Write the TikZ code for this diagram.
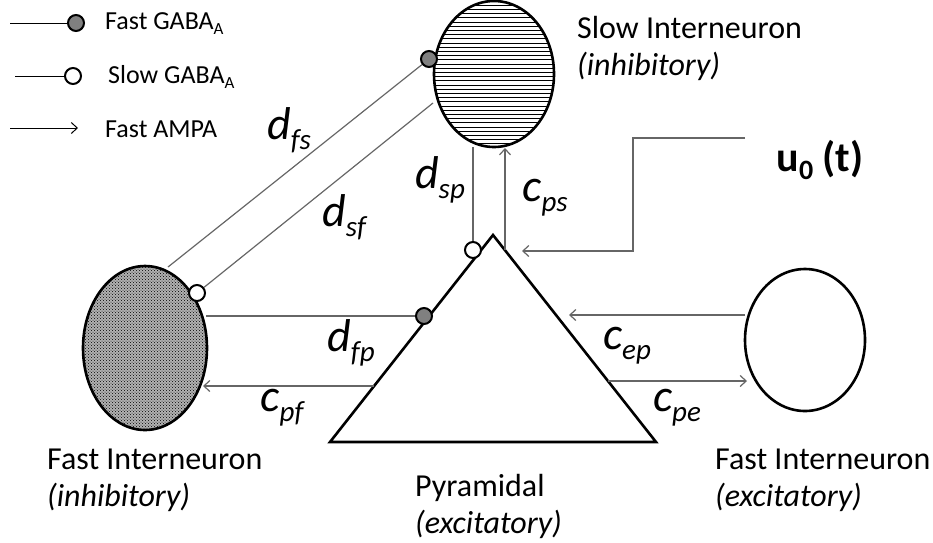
\documentclass[tikz,border=0pt]{standalone}
\usepackage{fontspec}
\setmainfont{Carlito}
\usetikzlibrary{arrows.meta,patterns,shapes.geometric}
\newcommand\symlab[2]{#1\raisebox{-10pt}{\fontsize{29}{29}\selectfont #2}}
\newcommand\legsub[1]{\raisebox{-5pt}{\fontsize{17}{17}\selectfont #1}}
\begin{document}
\begin{tikzpicture}[x=1pt,y=-1pt,
  cell/.style={draw=black, line width=2.6pt},
  conn/.style={draw=black!60, line width=1.2pt},
  arr/.style={conn, -{Straight Barb[length=6pt,width=11pt,line width=1.2pt]}},
  fdot/.style={circle, draw=black, line width=2pt, fill=black!50, minimum size=16pt, inner sep=0},
  odot/.style={circle, draw=black, line width=2pt, fill=white, minimum size=16pt, inner sep=0},
  lbl/.style={font=\fontsize{32}{37}\selectfont, align=left, inner sep=0, anchor=north west},
  sym/.style={inner sep=0, font=\fontsize{46}{46}\selectfont\itshape},
  leg/.style={inner sep=0, anchor=west, font=\fontsize{26}{26}\selectfont},
  legline/.style={draw=black, line width=1pt},
]
\useasboundingbox (0,0) rectangle (933,542);

% cells
\node[ellipse, cell, minimum width=120pt, minimum height=146pt, inner sep=0,
  path picture={\foreach \k in {0,...,36}
     \draw[line width=1pt] (path picture bounding box.north west) ++(0,\k*4.2) -- ++(140,0);}] (S) at (494,74) {};
\node[ellipse, cell, minimum width=124pt, minimum height=164pt, inner sep=0,
  preaction={fill=black!30}, pattern=crosshatch dots, pattern color=black] (F) at (145,348) {};
\node[ellipse, cell, minimum width=120pt, minimum height=142pt, inner sep=0] (E) at (805,340) {};

\coordinate (apex) at (493,235);
\coordinate (bl) at (330,442);
\coordinate (br) at (656,442);
\draw[cell, line join=miter] (bl) -- (apex) -- (br) -- cycle;

% synapse dots
\node[fdot] (gS) at (429,59) {};
\node[odot] (gF) at (197,293) {};
\node[odot] (gP1) at (473,250) {};
\node[fdot] (gP2) at (424,316) {};

% connector end points
\coordinate (Ffs) at (168,267);
\coordinate (Ssf) at (433,103);
\coordinate (Ssp) at (473,147);
\coordinate (Pps) at (505,250);
\coordinate (Sps) at (505,148);
\coordinate (uA) at (745,138);
\coordinate (uB) at (633,138);
\coordinate (Pu) at (522,251);
\coordinate (Ffp) at (206,316);
\coordinate (Ppf) at (374,386);
\coordinate (Fpf) at (203,386);
\coordinate (Eep) at (745,315);
\coordinate (Pep) at (569,315);
\coordinate (Ppe) at (608,381);
\coordinate (Epe) at (747,381);

\draw[conn] (Ffs) -- (gS);
\draw[conn] (gF) -- (Ssf);
\draw[conn] (Ssp) -- (gP1);
\draw[arr] (Pps) -- (Sps);
\draw[arr] (uA) -- (uB) |- (Pu);
\draw[conn] (Ffp) -- (gP2);
\draw[arr] (Ppf) -- (Fpf);
\draw[arr] (Eep) -- (Pep);
\draw[arr] (Ppe) -- (Epe);

% symbol labels
\node[sym] (ldfs) at (289,130) {\symlab{d}{fs}};
\node[sym] (ldsf) at (344,217) {\symlab{d}{sf}};
\node[sym] (ldsp) at (440,180) {\symlab{d}{sp}};
\node[sym] (lcps) at (545,198) {\symlab{c}{ps}};
\node[sym] (ldfp) at (351,343) {\symlab{d}{fp}};
\node[sym] (lcpf) at (282,408) {\symlab{c}{pf}};
\node[sym] (lcep) at (627,346) {\symlab{c}{ep}};
\node[sym] (lcpe) at (677,408) {\symlab{c}{pe}};
\node[inner sep=0, font=\fontsize{42}{42}\selectfont\bfseries] (lu) at (820,160)
  {u\raisebox{-8pt}{\fontsize{28}{28}\selectfont 0} (t)};

% cell names
\node[lbl] (tS) at (577,16) {Slow Interneuron\\\textit{(inhibitory)}};
\node[lbl] (tF) at (47,449) {Fast Interneuron\\\textit{(inhibitory)}};
\node[lbl] (tP) at (415,474) {Pyramidal\\\textit{(excitatory)}};
\node[lbl] (tE) at (715,449) {Fast Interneuron\\\textit{(excitatory)}};

% legend
\coordinate (L1a) at (10,23);
\node[fdot] (L1d) at (76,23) {};
\draw[legline] (L1a) -- (L1d);
\node[leg] (L1t) at (105,24) {Fast GABA\legsub{A}};
\coordinate (L2a) at (15,76);
\node[odot] (L2d) at (73,76) {};
\draw[legline] (L2a) -- (L2d);
\node[leg] (L2t) at (108,77) {Slow GABA\legsub{A}};
\coordinate (L3a) at (10,128);
\coordinate (L3b) at (78,128);
\draw[legline, -{Straight Barb[length=6pt,width=11pt,line width=1pt]}] (L3a) -- (L3b);
\node[leg] (L3t) at (105,129) {Fast AMPA};
\end{tikzpicture}
\end{document}
